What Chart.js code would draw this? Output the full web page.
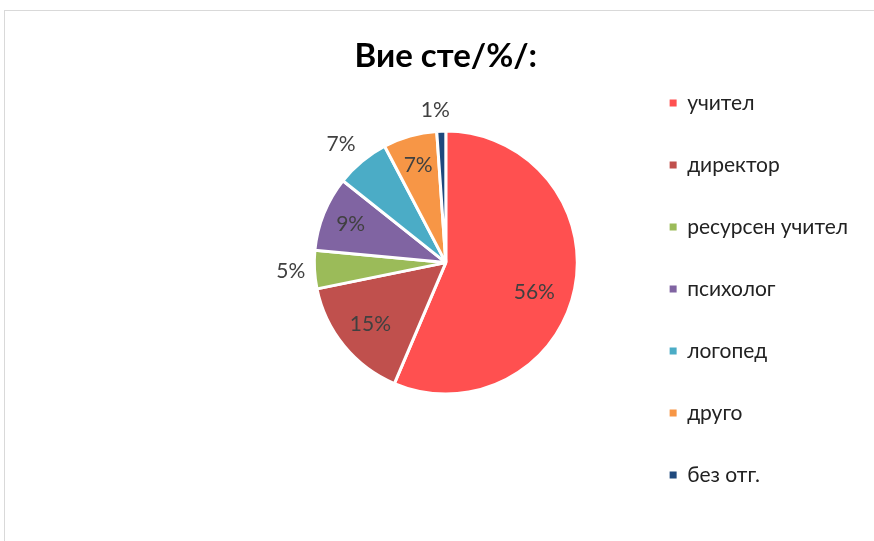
<!DOCTYPE html>
<html>
<head>
<meta charset="utf-8">
<script src="https://cdn.jsdelivr.net/npm/chart.js@4/dist/chart.umd.min.js"></script>
<style>
    body { margin: 0; background: #fff; }
    #wrap { position: relative; width: 874px; height: 541px; overflow: hidden; }
    #frame { position: absolute; left: 4px; top: 10px; width: 900px; height: 600px;
             border-top: 1px solid #d9d9d9; border-left: 1px solid #d9d9d9; }
    #pieChart { position: absolute; left: 0; top: 0; }
</style>
</head>
<body>
<div id="wrap">
    <div id="frame"></div>
    <canvas id="pieChart" width="874" height="541"></canvas>
</div>
<script>
// data (percent of answers)
const categories = ["учител", "директор", "ресурсен учител", "психолог", "логопед", "друго", "без отг."];
const shares = [56.4, 15.4, 4.7, 9.2, 6.6, 6.6, 1.1];
const sliceColors = ["#FF5050", "#C0504D", "#9BBB59", "#8064A2", "#4BACC6", "#F79646", "#1F497D"];

// where each percent label sits: fraction of the radius (>1 = outside) and a small turn in degrees
const labelRadius = [0.71, 0.74, 1.18, 0.78, 1.2, 0.77, 1.16];
const labelTurn = [7, 0, 0, 0, -2, 0, -2];

Chart.defaults.font.family = "Lato, 'Open Sans', sans-serif";

/*Draws the percent labels on / next to the slices*/
const pctLabels = {
    id: "pctLabels",
    afterDatasetsDraw(chart) {
        const ctx = chart.ctx;
        const meta = chart.getDatasetMeta(0);
        const total = shares.reduce((a, b) => a + b, 0);
        ctx.save();
        ctx.font = "21px Lato, sans-serif";
        ctx.fillStyle = "#404040";
        ctx.textAlign = "center";
        ctx.textBaseline = "middle";
        meta.data.forEach((arc, i) => {
            const p = arc.getProps(["x", "y", "startAngle", "endAngle", "outerRadius"], true);
            const mid = (p.startAngle + p.endAngle) / 2 + labelTurn[i] * Math.PI / 180;
            const r = p.outerRadius * labelRadius[i];
            const txt = Math.round(shares[i] / total * 100) + "%";
            ctx.fillText(txt, p.x + Math.cos(mid) * r, p.y + Math.sin(mid) * r);
        });
        ctx.restore();
    },
};

var pieChart = new Chart(document.getElementById("pieChart"), {
    type: "pie",
    data: {
        labels: categories,
        datasets: [
            {
                data: shares,
                backgroundColor: sliceColors,
                borderColor: "#ffffff",
                borderWidth: 3,
            },
        ],
    },
    plugins: [pctLabels],
    options: {
        responsive: false,
        animation: false,
        layout: {
            padding: { top: 37, bottom: 0, left: 263, right: 16 },
        },
        plugins: {
            title: {
                display: true,
                text: "Вие сте/%/:",
                fullSize: false,
                color: "#000000",
                font: { size: 33, weight: "bold" },
                padding: { top: 0, bottom: 53 },
            },
            subtitle: {
                display: true,
                text: "",
                position: "bottom",
                fullSize: false,
                font: { size: 12 },
                padding: { top: 0, bottom: 131 },
            },
            legend: {
                display: true,
                position: "right",
                labels: {
                    color: "#222222",
                    boxWidth: 7,
                    boxHeight: 7,
                    padding: 41,
                    font: { size: 21 },
                    generateLabels(chart) {
                        const items = Chart.overrides.pie.plugins.legend.labels.generateLabels(chart);
                        items.forEach((it) => { it.lineWidth = 0; });
                        return items;
                    },
                },
            },
            tooltip: { enabled: false },
        },
    },
});
</script>
</body>
</html>
